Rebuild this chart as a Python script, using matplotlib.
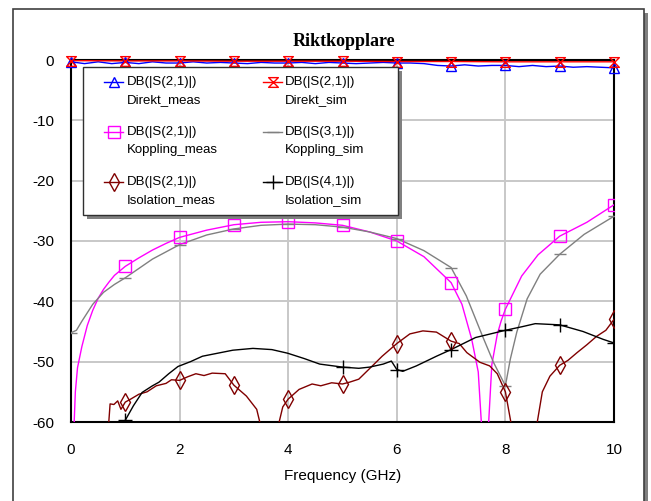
import matplotlib
matplotlib.use("Agg")
import matplotlib.pyplot as plt
from matplotlib.path import Path
from matplotlib.lines import Line2D
from matplotlib.patches import Rectangle

# ---------------- data ----------------
freq_dm = [0, 0.25, 0.5, 0.75, 1, 1.25, 1.5, 1.75, 2, 2.25, 2.5, 2.75, 3, 3.25, 3.5, 3.75, 4,
           4.25, 4.5, 4.75, 5, 5.25, 5.5, 5.75, 6, 6.25, 6.5, 6.75, 7, 7.25, 7.5, 7.75, 8,
           8.25, 8.5, 8.75, 9, 9.25, 9.5, 9.75, 10]
direkt_meas = [-0.3, -0.6, -0.3, -0.6, -0.4, -0.6, -0.3, -0.5, -0.5, -0.3, -0.5, -0.4, -0.5, -0.6, -0.4, -0.5, -0.5,
               -0.4, -0.6, -0.4, -0.5, -0.6, -0.5, -0.4, -0.5, -0.5, -0.6, -0.9, -1.0, -0.8, -1.0, -0.9, -0.9,
               -1.1, -0.9, -1.1, -1.0, -1.2, -1.1, -1.2, -1.3]

freq_ds = [0, 1, 2, 3, 4, 5, 6, 7, 8, 9, 10]
direkt_sim = [-0.1, -0.15, -0.15, -0.2, -0.2, -0.2, -0.25, -0.25, -0.3, -0.3, -0.3]

freq_km = [0.05, 0.08, 0.12, 0.2, 0.3, 0.4, 0.5, 0.6, 0.7, 0.8, 1.0, 1.25, 1.5, 1.75, 2.0, 2.5, 3.0,
           3.5, 4.0, 4.5, 5.0, 5.5, 6.0, 6.5, 7.0, 7.2, 7.38, 7.5, 7.57, 7.62, 7.68, 7.75, 7.85, 7.92,
           8.0, 8.3, 8.6, 9.0, 9.5, 10.0]
koppling_meas = [-62, -55, -51, -47.5, -44, -41.5, -39.5, -38, -36.8, -35.7, -34.2, -32.8, -31.5, -30.4, -29.4, -28.2, -27.3,
                 -26.9, -26.8, -27.0, -27.4, -28.5, -30.0, -32.6, -36.9, -40.5, -46.3, -51.7, -62, -64, -62, -50.5, -45.5, -43.3,
                 -41.3, -35.8, -32.3, -29.2, -26.9, -24.0]

freq_ks = [0, 0.1, 0.2, 0.4, 0.6, 0.8, 1.0, 1.5, 2.0, 2.5, 3.0, 3.5, 4.0, 4.5, 5.0, 5.5, 6.0, 6.5, 6.75,
           7.0, 7.28, 7.58, 7.78, 8.0, 8.09, 8.21, 8.4, 8.64, 9.0, 9.45, 10.0]
koppling_sim = [-45.2, -44.8, -43.3, -40.5, -38.5, -37.2, -36.1, -33.0, -30.6, -29.0, -28.0, -27.4, -27.2, -27.3, -27.7, -28.5, -29.6, -31.6, -33.0,
                -34.4, -39.1, -45.8, -50.1, -54.0, -49.6, -45.1, -39.6, -35.5, -32.2, -28.9, -25.9]

freq_im = [0.68, 0.72, 0.79, 0.86, 0.92, 1.0, 1.1, 1.25, 1.4, 1.57, 1.75, 1.85, 2.0, 2.15, 2.3, 2.45, 2.6, 2.84,
           3.0, 3.23, 3.42, 3.53, 3.65, 3.78, 3.9, 4.0, 4.2, 4.44, 4.6, 4.8, 5.0, 5.13, 5.3, 5.55, 5.73,
           6.0, 6.24, 6.48, 6.73, 7.0, 7.15, 7.29, 7.53, 7.71, 7.85, 8.0, 8.14, 8.35, 8.55, 8.68, 8.82, 9.0,
           9.15, 9.32, 9.5, 9.68, 9.85, 10.0]
isolation_meas = [-62, -57.0, -57.1, -56.5, -57.9, -56.7, -56.2, -55.4, -55.0, -54.0, -53.6, -53.0, -53.1, -52.5, -52.0, -52.3, -51.9, -52.0,
                  -53.9, -55.7, -57.9, -62, -63, -62, -57.5, -56.2, -54.6, -53.7, -54.0, -53.5, -53.7, -53.4, -52.9, -50.7, -49.1,
                  -47.0, -45.4, -44.9, -45.1, -46.6, -47.0, -48.5, -50.1, -50.7, -52.0, -55.0, -62, -64, -62, -55.0, -52.4, -50.6,
                  -49.8, -48.5, -47.2, -45.8, -44.8, -43.0]

freq_is = [0.98, 1.0, 1.15, 1.31, 1.5, 1.62, 1.8, 1.97, 2.2, 2.42, 2.7, 2.98, 3.35, 3.7, 3.99, 4.3, 4.58, 5.0, 5.3, 5.5,
           5.75, 5.9, 5.95, 6.0, 6.11, 6.36, 6.73, 7.0, 7.45, 8.0, 8.31, 8.55, 9.0, 9.43, 9.8, 10.0]
isolation_sim = [-60.2, -59.7, -57.3, -55.1, -54.0, -53.4, -52.0, -50.8, -50.0, -49.1, -48.6, -48.1, -47.8, -48.0, -48.6, -49.5, -50.4, -50.9, -51.1, -50.9,
                 -50.4, -49.9, -50.6, -51.3, -51.6, -50.7, -49.1, -48.0, -46.0, -44.8, -44.2, -43.7, -43.9, -45.0, -46.3, -46.9]

x_ticks = [0, 2, 4, 6, 8, 10]
y_ticks = [0, -10, -20, -30, -40, -50, -60]
legend_top = ["DB(|S(2,1)|)", "DB(|S(2,1)|)", "DB(|S(2,1)|)", "DB(|S(3,1)|)", "DB(|S(2,1)|)", "DB(|S(4,1)|)"]
legend_bottom = ["Direkt_meas", "Direkt_sim", "Koppling_meas", "Koppling_sim", "Isolation_meas", "Isolation_sim"]

# ---------------- style ----------------
SANS = ["Liberation Sans", "DejaVu Sans"]
plt.rcParams["font.family"] = SANS

W, H = 651, 501
fig = plt.figure(figsize=(W / 100, H / 100), dpi=100)

def fx(x):
    return x / W

def fy(y):
    return 1 - y / H

# outer frame with shadow
fig.patches.append(Rectangle((fx(17), fy(560)), fx(631), fy(13) - fy(560), transform=fig.transFigure,
                             facecolor="#808080", edgecolor="none", zorder=-3))
fig.patches.append(Rectangle((fx(13), fy(560)), fx(631), fy(9) - fy(560), transform=fig.transFigure,
                             facecolor="white", edgecolor="#404040", linewidth=1.2, zorder=-2))

ax = fig.add_axes([fx(71), fy(422), fx(614) - fx(71), fy(60) - fy(422)])
ax.set_xlim(0, 10)
ax.set_ylim(-60, 0)
ax.set_xticks(x_ticks)
ax.set_yticks(y_ticks)
ax.set_xticklabels([str(v) for v in x_ticks])
ax.set_yticklabels([str(v) for v in y_ticks])
ax.grid(True, color="#c8c8c8", linewidth=1.4)
ax.set_axisbelow(True)
ax.tick_params(length=0, labelsize=11)
ax.tick_params(axis="x", pad=15)
ax.tick_params(axis="y", pad=12)
for s in ax.spines.values():
    s.set_linewidth(1.5)
    s.set_color("black")

hourglass = Path([(-1, 1), (1, 1), (-1, -1), (1, -1), (-1, 1)],
                 [Path.MOVETO, Path.LINETO, Path.LINETO, Path.LINETO, Path.CLOSEPOLY])

def int_idx(fr):
    return [i for i, f in enumerate(fr) if abs(f - round(f)) < 1e-9]

series = [
    (freq_km, koppling_meas, "#ff00ff", "s", 8),
    (freq_ks, koppling_sim, "#808080", "_", 9),
    (freq_im, isolation_meas, "#800000", "d", 9),
    (freq_is, isolation_sim, "black", "+", 10),
    (freq_dm, direkt_meas, "#0000ff", "^", 7.5),
    (freq_ds, direkt_sim, "#ff0000", hourglass, 7),
]
for fr, vals, col, mk, ms in series:
    ax.plot(fr, vals, color=col, linewidth=1.0, zorder=3)
    clip = col not in ("#0000ff", "#ff0000")
    ax.plot(fr, vals, linestyle="none", marker=mk, markersize=ms, markevery=int_idx(fr),
            markerfacecolor="none", markeredgecolor=col, markeredgewidth=1.0, clip_on=clip, zorder=4)

# title and x label
fig.text(fx(344), fy(42), "Riktkopplare", ha="center", va="center",
         family=["Liberation Serif", "DejaVu Serif"], weight="bold", size=13)
ax.set_xlabel("Frequency (GHz)", fontsize=11)
ax.xaxis.label.set_va("center")
ax.xaxis.set_label_coords(0.5, (422 - 476) / 362)

# legend (drawn manually)
fig.patches.append(Rectangle((fx(87), fy(219)), fx(398) - fx(83), fy(67) - fy(215), transform=fig.transFigure,
                             facecolor="#808080", edgecolor="none", zorder=5))
fig.patches.append(Rectangle((fx(83), fy(215)), fx(398) - fx(83), fy(67) - fy(215), transform=fig.transFigure,
                             facecolor="white", edgecolor="#303030", linewidth=1.0, zorder=6))
handles = [("#0000ff", "^", 7.5), ("#ff0000", hourglass, 7), ("#ff00ff", "s", 8),
           ("#808080", "_", 9), ("#800000", "d", 9), ("black", "+", 10)]
col_hx = [(104, 123, 127), (263, 282, 285)]
row_y = [(82, 100), (132, 150), (182, 200)]
for k, (col, mk, ms) in enumerate(handles):
    r, c = divmod(k, 2)
    x0, x1, xt = col_hx[c]
    y1, y2 = row_y[r]
    fig.lines.append(Line2D([fx(x0), fx(x1)], [fy(y1), fy(y1)], transform=fig.transFigure,
                            color=col, linewidth=1.0, zorder=7))
    fig.lines.append(Line2D([fx((x0 + x1) / 2)], [fy(y1)], transform=fig.transFigure, linestyle="none",
                            marker=mk, markersize=ms, markerfacecolor="none", markeredgecolor=col,
                            markeredgewidth=1.0, zorder=7))
    fig.text(fx(xt), fy(y1), legend_top[k], ha="left", va="center", size=9.5, zorder=8)
    fig.text(fx(xt), fy(y2), legend_bottom[k], ha="left", va="center", size=9.5, zorder=8)

fig.savefig("out.png", dpi=100)
